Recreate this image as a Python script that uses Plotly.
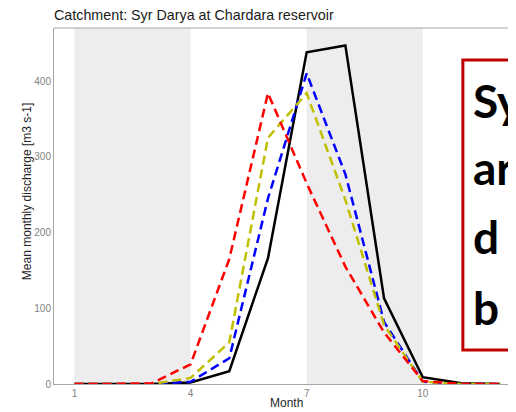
import plotly.graph_objects as go

months = list(range(1, 13))
observed = [0, 0, 0, 2, 17, 166, 438, 447, 113, 9, 1, 0]
sim_red = [0, 0, 1, 26, 165, 384, 265, 155, 68, 4, 0, 0]
sim_blue = [0, 0, 0, 3, 34, 245, 410, 277, 82, 3, 0, 0]
sim_yellow = [0, 0, 0, 8, 55, 325, 384, 243, 78, 3, 0, 0]
shaded_months = [(1, 4), (7, 10)]
x_ticks = [1, 4, 7, 10]
y_ticks = [0, 100, 200, 300, 400]
box_lines = ["Sy", "ar", "d", "b"]

dash = "9px,5px"

fig = go.Figure()
fig.add_trace(go.Scatter(x=months, y=observed, mode="lines",
                         line=dict(color="black", width=2.5)))
fig.add_trace(go.Scatter(x=months, y=sim_blue, mode="lines",
                         line=dict(color="#0000FF", width=2.5, dash=dash)))
fig.add_trace(go.Scatter(x=months, y=sim_yellow, mode="lines",
                         line=dict(color="#BFBF00", width=2.5, dash=dash)))
fig.add_trace(go.Scatter(x=months, y=sim_red, mode="lines",
                         line=dict(color="#FF0000", width=2.5, dash=dash)))

for a, b in shaded_months:
    fig.add_shape(type="rect", xref="x", yref="paper", x0=a, x1=b, y0=0, y1=1,
                  fillcolor="#EDEDED", line_width=0, layer="below")

# top frame line
fig.add_shape(type="line", xref="paper", yref="paper", x0=0, x1=1, y0=1, y1=1,
              line=dict(color="#A6A6A6", width=1))

# slide text box overlapping the chart
fig.add_shape(type="rect", xref="paper", yref="paper", x0=0.885, x1=1.2,
              y0=0.0955, y1=0.91, fillcolor="white",
              line=dict(color="#C00000", width=3), layer="above")
for txt, yy in zip(box_lines, [0.797, 0.609, 0.413, 0.216]):
    fig.add_annotation(text=txt, xref="paper", yref="paper", x=0.9026, y=yy,
                       xanchor="left", yanchor="middle", showarrow=False,
                       font=dict(family="Lato", size=46, color="black", weight="bold"))

fig.add_annotation(text="Month", xref="paper", yref="paper", x=0.504, y=-0.0534,
                   xanchor="center", yanchor="middle", showarrow=False,
                   font=dict(family="Liberation Sans", size=12, color="#262626"))
fig.add_annotation(text="Mean monthly discharge [m3 s-1]", xref="paper", yref="paper",
                   x=-0.0584, y=0.539, textangle=-90, xanchor="center", yanchor="middle",
                   showarrow=False,
                   font=dict(family="Liberation Sans", size=12, color="#262626"))

# page body adds an 8px offset, so the figure is 8px smaller than the window
fig.update_layout(
    width=508, height=404,
    margin=dict(l=46, r=0, t=20, b=28),
    plot_bgcolor="white", paper_bgcolor="white",
    showlegend=False,
    title=dict(text="Catchment: Syr Darya at Chardara reservoir", x=0, xref="paper",
               xanchor="left", y=0.982, yanchor="middle",
               font=dict(family="Liberation Sans", size=14.3, color="#1a1a1a")),
    xaxis=dict(range=[0.47, 12.41], tickvals=x_ticks, showgrid=False, zeroline=False,
               showline=True, linecolor="#A6A6A6", linewidth=1, ticks="",
               tickfont=dict(family="Liberation Sans", size=10, color="#808080")),
    yaxis=dict(range=[0, 470], tickvals=y_ticks, showgrid=False, zeroline=False,
               showline=True, linecolor="#A6A6A6", linewidth=1, ticks="",
               tickfont=dict(family="Liberation Sans", size=10, color="#808080")),
)

fig.write_html("out.html")
